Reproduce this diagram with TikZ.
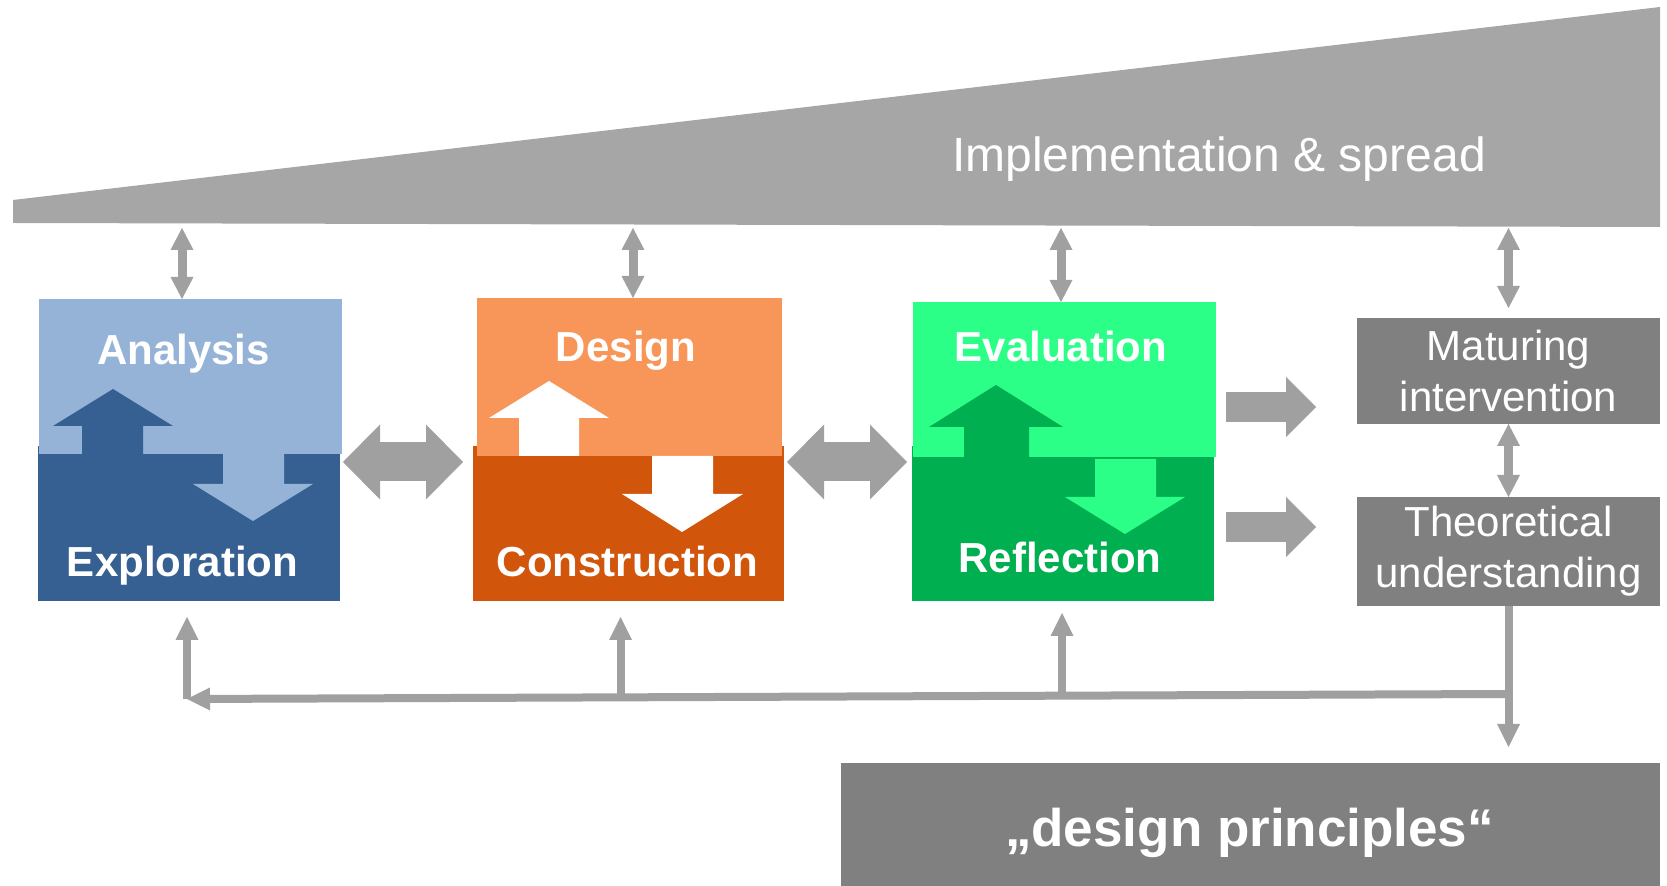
\documentclass[tikz,border=0pt]{standalone}
\usepackage{fontspec}
\setmainfont{Liberation Sans}
\usepackage{xcolor}
\usetikzlibrary{
  arrows.meta,
  calc
}

\definecolor{wedgegray}{HTML}{A6A6A6}
\definecolor{arrowgray}{HTML}{A0A0A0}
\definecolor{boxgray}{HTML}{808080}
\definecolor{anaLight}{HTML}{95B3D7}
\definecolor{expDark}{HTML}{376092}
\definecolor{desLight}{HTML}{F79658}
\definecolor{conDark}{HTML}{D1550B}
\definecolor{evaLight}{HTML}{2BFF88}
\definecolor{refDark}{HTML}{00AF50}

\begin{document}
\begin{tikzpicture}[x=0.5pt, y=-0.5pt,
    box/.style={rectangle, anchor=north west, inner sep=0pt, outer sep=0pt},
    stage/.style={anchor=base, inner sep=0pt, text=white, font=\fontsize{21}{25}\selectfont\bfseries},
    outcome/.style={box, fill=boxgray, text=white, align=center, minimum width=151.5pt, font=\fontsize{21}{25.5}\selectfont},
    link/.style={draw=arrowgray, line width=4.5pt, >={Triangle[width=11.5pt,length=11pt,line width=0pt]}, <->},
    swap/.style={draw=arrowgray, line width=19.5pt, >={Triangle[width=37.5pt,length=18.5pt,line width=0pt]}, <->},
    push/.style={draw=arrowgray, line width=15pt, >={Triangle[width=30pt,length=15pt,line width=0pt]}, ->},
    feedback/.style={draw=arrowgray, line width=4pt, >={Triangle[width=11.5pt,length=11.5pt,line width=0pt]}, ->}]
\useasboundingbox (0,0) rectangle (1667,886);

% implementation wedge
\fill[wedgegray] (13,200) -- (1660,7) -- (1660,227) -- (13,223) -- cycle;
\node[anchor=base, inner sep=0pt, text=white, font=\fontsize{24}{28}\selectfont] (spread) at (1219,172) {Implementation \& spread};

% analysis / exploration
\node[box, fill=expDark, minimum width=151pt, minimum height=77.5pt] (exp) at (38,446) {};
\node[box, fill=anaLight, minimum width=151.5pt, minimum height=77.5pt] (ana) at (39,299) {};
\fill[expDark] (113,389) -- (173,426) -- (143,426) -- (143,454) -- (82,454) -- (82,426) -- (53,426) -- cycle;
\fill[anaLight] (223,454) -- (284,454) -- (284,484) -- (313,484) -- (253,521) -- (193,484) -- (223,484) -- cycle;
\node[stage] (anatext) at (183.5,365) {Analysis};
\node[stage] (exptext) at (182.5,577) {Exploration};

% design / construction
\node[box, fill=conDark, minimum width=155.5pt, minimum height=77.5pt] (con) at (473,446) {};
\node[box, fill=desLight, minimum width=152.5pt, minimum height=79pt] (des) at (477,298) {};
\fill[white] (549,381) -- (609,418) -- (579,418) -- (579,456) -- (519,456) -- (519,418) -- (489,418) -- cycle;
\fill[white] (652,456) -- (713,456) -- (713,494) -- (743,494) -- (682,532) -- (622,494) -- (652,494) -- cycle;
\node[stage] (destext) at (626,362) {Design};
\node[stage] (context) at (627.5,577) {Construction};

% evaluation / reflection
\node[box, fill=refDark, minimum width=151pt, minimum height=77.5pt] (ref) at (912,446) {};
\node[box, fill=evaLight, minimum width=151.5pt, minimum height=77.5pt] (eva) at (913,302) {};
\fill[refDark] (996,385) -- (1063,427) -- (1029,427) -- (1029,457) -- (964,457) -- (964,427) -- (929,427) -- cycle;
\fill[evaLight] (1095,459) -- (1156,459) -- (1156,497) -- (1185,497) -- (1125,534) -- (1065,497) -- (1095,497) -- cycle;
\node[stage] (evatext) at (1061,362) {Evaluation};
\node[stage] (reftext) at (1060,573) {Reflection};

% outcomes
\node[outcome, minimum height=53pt] (mat) at (1357,318) {Maturing\\intervention};
\node[outcome, minimum height=54.5pt] (theo) at (1357,497) {Theoretical\\understanding};
\node[box, fill=boxgray, minimum width=409.5pt, minimum height=62pt] (dp) at (841,763) {};
\node[anchor=base, inner sep=0pt, text=white, font=\fontsize{26.5}{30}\selectfont\bfseries] (dptext) at (1249.5,847) {„design principles“};

% links to the wedge
\coordinate (w1) at (182,228);
\coordinate (w2) at (633,228);
\coordinate (w3) at (1061,228);
\coordinate (w4) at (1508.5,228);
\draw[link] (w1) -- (w1 |- ana.north);
\draw[link] (w2) -- (w2 |- des.north);
\draw[link] (w3) -- (w3 |- eva.north);
\draw[link] (w4) -- ($(mat.north)+(0,-10)$);
\draw[link] (mat.south) -- (theo.north);

% block arrows
\coordinate (mid) at (0,462);
\coordinate (upper) at (0,407);
\coordinate (lower) at (0,527);
\draw[swap] ($(ana.east |- mid)+(1,0)$) -- ($(con.west |- mid)+(-10,0)$);
\draw[swap] ($(con.east |- mid)+(3,0)$) -- ($(eva.west |- mid)+(-6,0)$);
\draw[push] ($(eva.east |- upper)+(10,0)$) -- ($(mat.west |- upper)+(-41,0)$);
\draw[push] ($(ref.east |- lower)+(12,0)$) -- ($(theo.west |- lower)+(-41,0)$);

% feedback loop
\coordinate (fbR) at (1508.5,694);
\coordinate (fbL) at (187,699);
\draw[feedback] (theo.south) -- ($(dp.north -| theo.south)+(0,-16)$);
\draw[feedback] (fbR) -- (fbL);
\draw[feedback] ($(exp.south)+(-2,98)$) -- ($(exp.south)+(-2,16)$);
\draw[feedback] ($(con.south)+(-8,96)$) -- ($(con.south)+(-8,16)$);
\draw[feedback] ($(ref.south)+(-1,95)$) -- ($(ref.south)+(-1,12)$);
\end{tikzpicture}
\end{document}
